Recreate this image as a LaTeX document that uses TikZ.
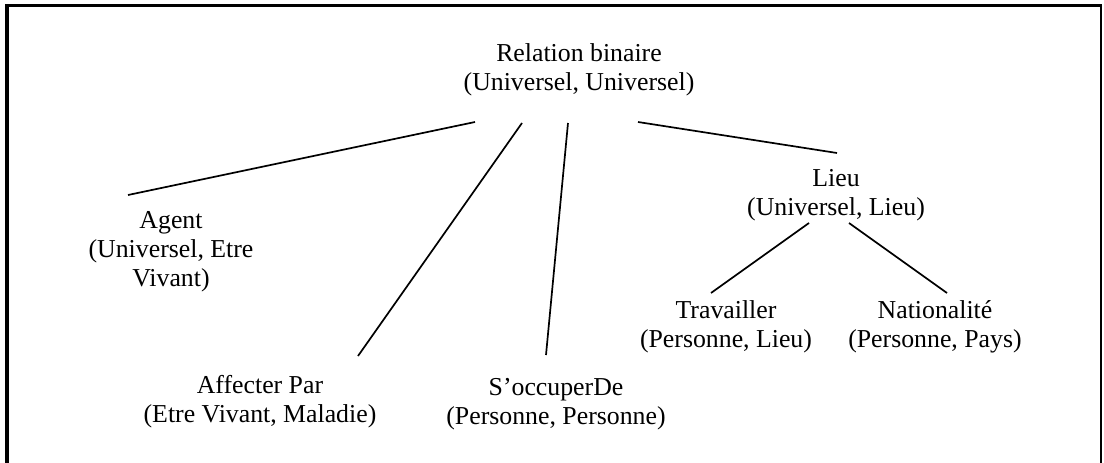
\documentclass[tikz,border=0pt]{standalone}
\usepackage{fontspec}
\setmainfont{Liberation Serif}
\begin{document}
\begin{tikzpicture}[x=1pt,y=-1pt,
  lbl/.style={align=center, anchor=base, inner sep=0pt,
              font=\fontsize{25.8}{29}\selectfont},
  link/.style={line width=1.7pt},
]
\fill[white] (0,0) rectangle (1104,463);
\useasboundingbox (0,0) rectangle (1104,463);

% open frame: thick left and top edges, thin right edge
\draw[line width=4pt] (7,463) -- (7,4);
\draw[line width=3.4pt] (5,5.7) -- (1102,5.7);
\draw[line width=1.8pt] (1100.7,4) -- (1100.7,463);

% relation labels (placed by the baseline of their last line)
\node[lbl] (rel)    at (579,90)  {Relation binaire\\(Universel, Universel)};
\node[lbl] (agent)  at (171,286) {Agent\\(Universel, Etre\\Vivant)};
\node[lbl] (affect) at (260,422) {Affecter Par\\(Etre Vivant, Maladie)};
\node[lbl] (occ)    at (556,424) {S’occuperDe\\(Personne, Personne)};
\node[lbl] (lieu)   at (836,215) {Lieu\\(Universel, Lieu)};
\node[lbl] (trav)   at (726,347) {Travailler\\(Personne, Lieu)};
\node[lbl] (nat)    at (935,347) {Nationalité\\(Personne, Pays)};

% connector end points next to each label
\coordinate (rel-agent)  at (475,122);
\coordinate (rel-affect) at (522,123);
\coordinate (rel-occ)    at (568,123);
\coordinate (rel-lieu)   at (638,122);
\coordinate (agent-top)  at (128,195);
\coordinate (affect-top) at (358,356);
\coordinate (occ-top)    at (546,355);
\coordinate (lieu-top)   at (837,153);
\coordinate (lieu-trav)  at (809,223);
\coordinate (lieu-nat)   at (849,223);
\coordinate (trav-top)   at (711,293);
\coordinate (nat-top)    at (947,293);

% hierarchy
\draw[link] (rel-agent)  -- (agent-top);
\draw[link] (rel-affect) -- (affect-top);
\draw[link] (rel-occ)    -- (occ-top);
\draw[link] (rel-lieu)   -- (lieu-top);
\draw[link] (lieu-trav)  -- (trav-top);
\draw[link] (lieu-nat)   -- (nat-top);
\end{tikzpicture}
\end{document}
